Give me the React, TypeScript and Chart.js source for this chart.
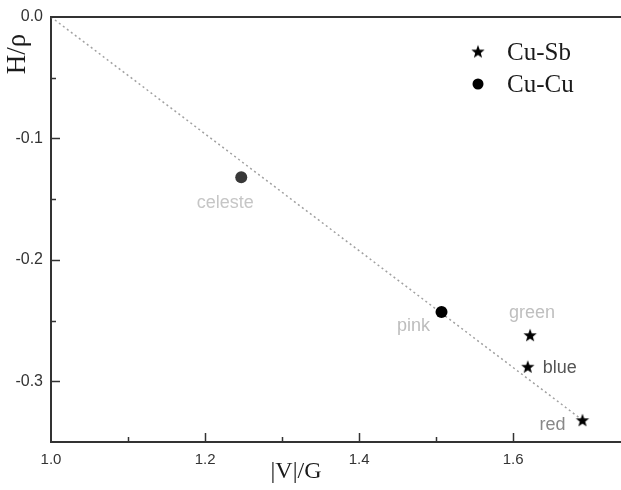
import { useEffect, useRef } from 'react';
import { Chart, registerables } from 'chart.js';

Chart.register(...registerables);

// ---- data ----
const cuSbLabels = ['green', 'blue', 'red'];
const cuSbX = [1.622, 1.619, 1.69];
const cuSbY = [-0.262, -0.288, -0.332];

const cuCuLabels = ['celeste', 'pink'];
const cuCuX = [1.247, 1.507];
const cuCuY = [-0.132, -0.243];

const fitX = [1.0, 1.69];
const fitY = [0.0, -0.332];

const xTickLabels = [1.0, 1.2, 1.4, 1.6];
const yTickLabels = [0.0, -0.1, -0.2, -0.3];

const legendNames = ['Cu-Sb', 'Cu-Cu'];

// ---- styles (not data) ----
const labelStyle: Record<string, { color: string; dx: number; dy: number; align: CanvasTextAlign }> = {
  celeste: { color: '#c6c6c6', dx: -16, dy: 26, align: 'center' },
  pink: { color: '#bdbdbd', dx: -28, dy: 14, align: 'center' },
  green: { color: '#bfbfbf', dx: 2, dy: -22, align: 'center' },
  blue: { color: '#555555', dx: 15, dy: 1, align: 'left' },
  red: { color: '#888888', dx: -30, dy: 5, align: 'center' },
};

const SANS = '"Liberation Sans", Arial, sans-serif';
const SERIF = '"Liberation Serif", "Times New Roman", serif';

function makeStar(color: string) {
  const c = document.createElement('canvas');
  c.width = 16;
  c.height = 16;
  const g = c.getContext('2d')!;
  const outer = 7;
  const inner = 2.9;
  g.beginPath();
  for (let i = 0; i < 10; i++) {
    const r = i % 2 === 0 ? outer : inner;
    const a = -Math.PI / 2 + (i * Math.PI) / 5;
    const px = 8 + r * Math.cos(a);
    const py = 8.5 + r * Math.sin(a);
    if (i === 0) g.moveTo(px, py);
    else g.lineTo(px, py);
  }
  g.closePath();
  g.fillStyle = color;
  g.fill();
  return c;
}

const near = (a: number, b: number) => Math.abs(a - b) < 1e-6;

export default function App() {
  const ref = useRef<HTMLCanvasElement | null>(null);

  useEffect(() => {
    const star = makeStar('#000000');

    const overlay = {
      id: 'overlay',
      afterDatasetsDraw(chart: any) {
        const ctx = chart.ctx as CanvasRenderingContext2D;
        const area = chart.chartArea;
        const xs = chart.scales.x;
        const ys = chart.scales.y;
        ctx.save();

        // top frame line
        ctx.strokeStyle = '#333333';
        ctx.lineWidth = 2;
        ctx.beginPath();
        ctx.moveTo(area.left - 1, area.top);
        ctx.lineTo(area.right, area.top);
        ctx.stroke();

        // inward tick marks
        ctx.lineWidth = 1.5;
        for (const t of ys.ticks) {
          const v = t.value;
          if (near(v, ys.max) || near(v, ys.min)) continue;
          const major = yTickLabels.some((l) => near(l, v));
          const len = major ? 9 : 5;
          const py = Math.round(ys.getPixelForValue(v)) + 0.5;
          ctx.beginPath();
          ctx.moveTo(area.left, py);
          ctx.lineTo(area.left + len, py);
          ctx.stroke();
        }
        for (const t of xs.ticks) {
          const v = t.value;
          if (near(v, xs.min)) continue;
          const major = xTickLabels.some((l) => near(l, v));
          const len = major ? 9 : 5;
          const px = Math.round(xs.getPixelForValue(v)) + 0.5;
          ctx.beginPath();
          ctx.moveTo(px, area.bottom);
          ctx.lineTo(px, area.bottom - len);
          ctx.stroke();
        }

        // point labels
        ctx.font = `18px ${SANS}`;
        ctx.textBaseline = 'middle';
        const drawLabels = (names: string[], X: number[], Y: number[]) => {
          names.forEach((n, i) => {
            const s = labelStyle[n];
            ctx.fillStyle = s.color;
            ctx.textAlign = s.align;
            ctx.fillText(n, xs.getPixelForValue(X[i]) + s.dx, ys.getPixelForValue(Y[i]) + s.dy);
          });
        };
        drawLabels(cuSbLabels, cuSbX, cuSbY);
        drawLabels(cuCuLabels, cuCuX, cuCuY);

        // legend
        ctx.drawImage(star, 478 - 8, 52 - 8.5);
        ctx.fillStyle = '#000000';
        ctx.beginPath();
        ctx.arc(478, 84, 5.5, 0, Math.PI * 2);
        ctx.fill();
        ctx.font = `25px ${SERIF}`;
        ctx.fillStyle = '#1a1a1a';
        ctx.textAlign = 'left';
        ctx.textBaseline = 'middle';
        ctx.fillText(legendNames[0], 507, 53);
        ctx.fillText(legendNames[1], 507, 85);

        // axis titles
        ctx.textAlign = 'center';
        ctx.fillStyle = '#1a1a1a';
        ctx.font = `24px ${SERIF}`;
        ctx.fillText('|V|/G', 296, 472);
        ctx.save();
        ctx.translate(18, 54);
        ctx.rotate(-Math.PI / 2);
        ctx.font = `27px ${SERIF}`;
        ctx.fillText('H/ρ', 0, 0);
        ctx.restore();

        ctx.restore();
      },
    };

    const chart = new Chart(ref.current!, {
      type: 'scatter',
      data: {
        datasets: [
          {
            type: 'line',
            label: 'fit',
            data: fitX.map((x, i) => ({ x, y: fitY[i] })),
            borderColor: '#a0a0a0',
            borderWidth: 1.5,
            borderDash: [2, 3],
            pointRadius: 0,
            fill: false,
            order: 3,
          } as any,
          {
            label: legendNames[0],
            data: cuSbX.map((x, i) => ({ x, y: cuSbY[i] })),
            pointStyle: star as any,
            pointRadius: 7,
            order: 1,
          },
          {
            label: legendNames[1],
            data: cuCuX.map((x, i) => ({ x, y: cuCuY[i] })),
            pointStyle: 'circle',
            pointRadius: 6,
            borderWidth: 0,
            backgroundColor: ['#383838', '#000000'],
            borderColor: ['#383838', '#000000'],
            order: 2,
          },
        ],
      },
      options: {
        responsive: false,
        animation: false,
        layout: { autoPadding: false, padding: { top: 17, right: 0, left: 0, bottom: 0 } },
        plugins: { legend: { display: false }, tooltip: { enabled: false } },
        scales: {
          x: {
            type: 'linear',
            min: 1.0,
            max: 1.74,
            afterBuildTicks: (s: any) => {
              s.ticks = s.ticks.filter((t: any) => near(Math.round(t.value * 10) / 10, t.value));
            },
            afterFit: (s: any) => {
              s.height = 48;
              s.paddingRight = 0;
              s.paddingLeft = 0;
            },
            ticks: {
              stepSize: 0.1,
              padding: 9,
              color: '#333333',
              font: { family: SANS, size: 15 },
              maxRotation: 0,
              autoSkip: false,
              callback: (v: any) => {
                const n = Number(v);
                return xTickLabels.some((l) => near(l, n)) ? n.toFixed(1) : '';
              },
            },
            grid: { drawOnChartArea: false, drawTicks: false },
            border: { display: true, color: '#333333', width: 2 },
          },
          y: {
            type: 'linear',
            min: -0.35,
            max: 0,
            afterBuildTicks: (s: any) => {
              s.ticks = s.ticks.filter((t: any) => near(Math.round(t.value * 20) / 20, t.value));
            },
            afterFit: (s: any) => {
              s.width = 51;
              s.paddingTop = 0;
              s.paddingBottom = 0;
            },
            ticks: {
              stepSize: 0.05,
              padding: 8,
              color: '#333333',
              font: { family: SANS, size: 16 },
              autoSkip: false,
              callback: (v: any) => {
                const n = Number(v);
                if (!yTickLabels.some((l) => near(l, n))) return '';
                return near(n, 0) ? '0.0' : n.toFixed(1);
              },
            },
            grid: { drawOnChartArea: false, drawTicks: false },
            border: { display: true, color: '#333333', width: 2 },
          },
        },
      },
      plugins: [overlay],
    });

    return () => chart.destroy();
  }, []);

  return (
    <div style={{ position: 'absolute', left: 0, top: 0, width: 621, height: 490, background: '#ffffff' }}>
      <canvas ref={ref} width={621} height={490} style={{ display: 'block' }} />
    </div>
  );
}
